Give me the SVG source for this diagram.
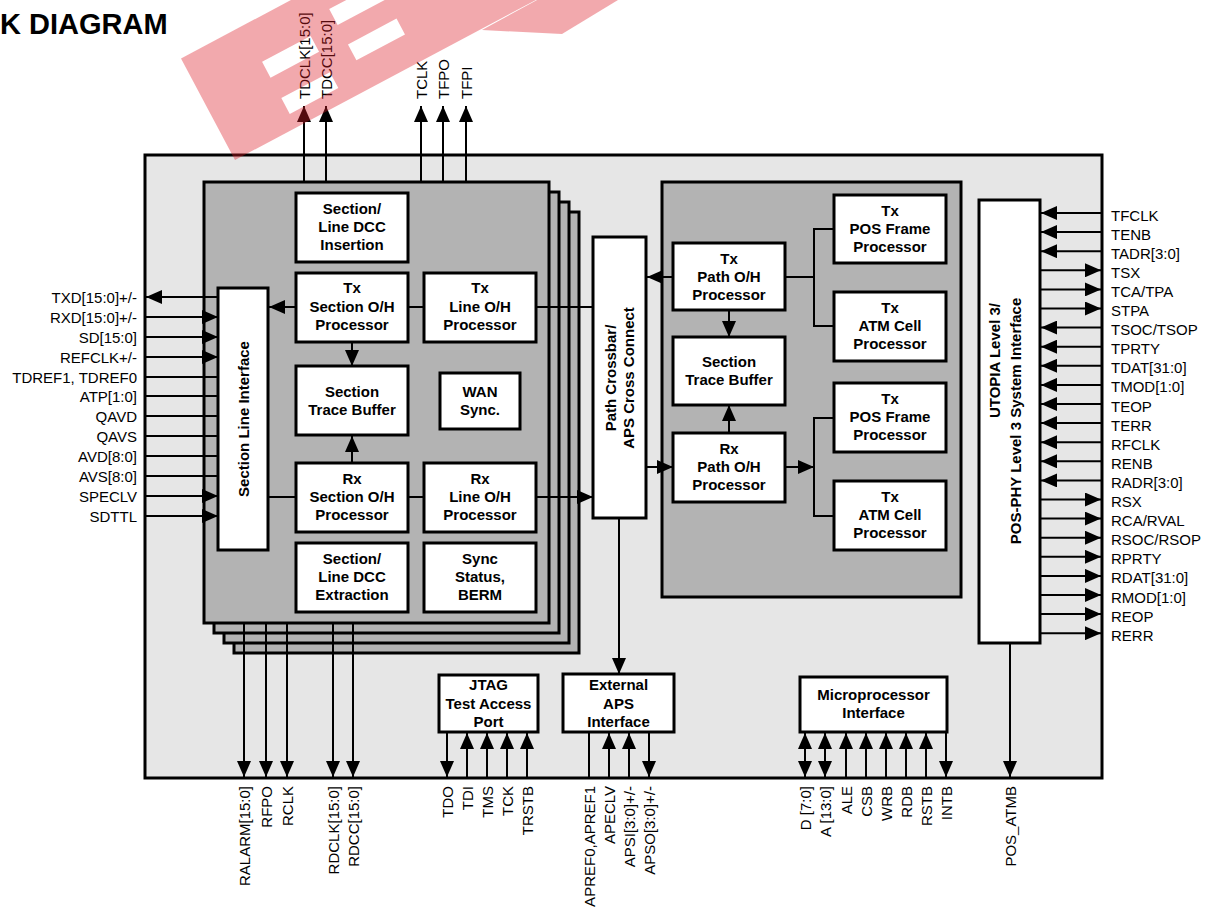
<svg xmlns="http://www.w3.org/2000/svg" width="1210" height="908" viewBox="0 0 1210 908">
<defs>
<style>
.box{fill:#fff;stroke:#000;stroke-width:3}
.blk{fill:#b3b3b3;stroke:#000;stroke-width:3}
.ln{stroke:#000;stroke-width:2;fill:none}
.a{marker-end:url(#ah)}
.ab{marker-start:url(#ah);marker-end:url(#ah)}
.bl{font-family:"Liberation Sans",Arial,sans-serif;font-weight:bold;font-size:15px;text-anchor:middle;fill:#000}
.pl{font-family:"Liberation Sans",Arial,sans-serif;font-size:15px;fill:#000}
.r{text-anchor:end}
</style>
<marker id="ah" markerUnits="userSpaceOnUse" markerWidth="16" markerHeight="14" refX="16" refY="7" orient="auto-start-reverse" viewBox="0 0 16 14"><path d="M0,0 L16,7 L0,14 z" fill="#000"/></marker>
</defs>
<rect width="1210" height="908" fill="#fff"/>
<text x="0" y="34" font-family="Liberation Sans,Arial,sans-serif" font-weight="bold" font-size="29">K DIAGRAM</text>

<g id="chip"><rect x="145" y="155" width="957" height="623" fill="#e6e6e6" stroke="#000" stroke-width="3"/></g>

<g id="section-block">
<rect class="blk" x="234" y="212" width="345" height="441"/>
<rect class="blk" x="224" y="202" width="345" height="441"/>
<rect class="blk" x="214" y="192" width="345" height="441"/>
<rect class="blk" x="204" y="182" width="345" height="441"/>
</g>
<g id="path-block"><rect class="blk" x="662" y="182" width="299" height="415"/></g>

<g id="dcc-insertion"><rect class="box" x="296" y="193" width="112" height="69"/>
<text class="bl"><tspan x="352" y="214">Section/</tspan><tspan x="352" y="232">Line DCC</tspan><tspan x="352" y="250">Insertion</tspan></text></g>
<g id="tx-section-oh"><rect class="box" x="296" y="273" width="112" height="69"/>
<text class="bl"><tspan x="352" y="293">Tx</tspan><tspan x="352" y="312">Section O/H</tspan><tspan x="352" y="330">Processor</tspan></text></g>
<g id="tx-line-oh"><rect class="box" x="424" y="273" width="112" height="69"/>
<text class="bl"><tspan x="480" y="293">Tx</tspan><tspan x="480" y="312">Line O/H</tspan><tspan x="480" y="330">Processor</tspan></text></g>
<g id="section-trace-buffer"><rect class="box" x="296" y="366" width="112" height="69"/>
<text class="bl"><tspan x="352" y="397">Section</tspan><tspan x="352" y="415">Trace Buffer</tspan></text></g>
<g id="wan-sync"><rect class="box" x="440" y="373" width="80" height="56"/>
<text class="bl"><tspan x="480" y="397">WAN</tspan><tspan x="480" y="415">Sync.</tspan></text></g>
<g id="rx-section-oh"><rect class="box" x="296" y="463" width="112" height="69"/>
<text class="bl"><tspan x="352" y="484">Rx</tspan><tspan x="352" y="502">Section O/H</tspan><tspan x="352" y="520">Processor</tspan></text></g>
<g id="rx-line-oh"><rect class="box" x="424" y="463" width="112" height="69"/>
<text class="bl"><tspan x="480" y="484">Rx</tspan><tspan x="480" y="502">Line O/H</tspan><tspan x="480" y="520">Processor</tspan></text></g>
<g id="dcc-extraction"><rect class="box" x="296" y="543" width="112" height="69"/>
<text class="bl"><tspan x="352" y="564">Section/</tspan><tspan x="352" y="582">Line DCC</tspan><tspan x="352" y="600">Extraction</tspan></text></g>
<g id="sync-status"><rect class="box" x="424" y="543" width="112" height="69"/>
<text class="bl"><tspan x="480" y="564">Sync</tspan><tspan x="480" y="582">Status,</tspan><tspan x="480" y="600">BERM</tspan></text></g>
<g id="section-line-interface"><rect class="box" x="218" y="288" width="50" height="262"/>
<text class="bl" transform="translate(248.5,419) rotate(-90)">Section Line Interface</text></g>

<g id="crossbar"><rect class="box" x="593" y="237" width="53" height="281"/>
<text class="bl" transform="translate(616,378) rotate(-90)">Path  Crossbar/</text>
<text class="bl" transform="translate(634,378) rotate(-90)">APS Cross Connect</text></g>

<g id="tx-path-oh"><rect class="box" x="673" y="243" width="112" height="67"/>
<text class="bl"><tspan x="729" y="264">Tx</tspan><tspan x="729" y="282">Path O/H</tspan><tspan x="729" y="300">Processor</tspan></text></g>
<g id="path-trace-buffer"><rect class="box" x="673" y="337" width="112" height="68"/>
<text class="bl"><tspan x="729" y="367">Section</tspan><tspan x="729" y="385">Trace Buffer</tspan></text></g>
<g id="rx-path-oh"><rect class="box" x="673" y="433" width="112" height="69"/>
<text class="bl"><tspan x="729" y="454">Rx</tspan><tspan x="729" y="472">Path O/H</tspan><tspan x="729" y="490">Processor</tspan></text></g>
<g id="tx-pos-1"><rect class="box" x="834" y="195" width="112" height="68"/>
<text class="bl"><tspan x="890" y="216">Tx</tspan><tspan x="890" y="234">POS Frame</tspan><tspan x="890" y="252">Processor</tspan></text></g>
<g id="tx-atm-1"><rect class="box" x="834" y="292" width="112" height="69"/>
<text class="bl"><tspan x="890" y="313">Tx</tspan><tspan x="890" y="331">ATM Cell</tspan><tspan x="890" y="349">Processor</tspan></text></g>
<g id="tx-pos-2"><rect class="box" x="834" y="383" width="112" height="69"/>
<text class="bl"><tspan x="890" y="404">Tx</tspan><tspan x="890" y="422">POS Frame</tspan><tspan x="890" y="440">Processor</tspan></text></g>
<g id="tx-atm-2"><rect class="box" x="834" y="481" width="112" height="69"/>
<text class="bl"><tspan x="890" y="502">Tx</tspan><tspan x="890" y="520">ATM Cell</tspan><tspan x="890" y="538">Processor</tspan></text></g>

<g id="utopia"><rect class="box" x="979" y="200" width="61" height="443"/>
<text class="bl r" transform="translate(1000,303) rotate(-90)">UTOPIA  Level 3/</text>
<text class="bl" transform="translate(1021,421) rotate(-90)">POS-PHY  Level 3  System  Interface</text></g>

<g id="jtag"><rect class="box" x="439" y="675" width="99" height="57"/>
<text class="bl"><tspan x="488.5" y="690">JTAG</tspan><tspan x="488.5" y="708.5">Test Access</tspan><tspan x="488.5" y="727">Port</tspan></text></g>
<g id="ext-aps"><rect class="box" x="563" y="674" width="111" height="58"/>
<text class="bl"><tspan x="618.5" y="690">External</tspan><tspan x="618.5" y="708.5">APS</tspan><tspan x="618.5" y="727">Interface</tspan></text></g>
<g id="micro"><rect class="box" x="800" y="677" width="147" height="55"/>
<text class="bl"><tspan x="873.5" y="700">Microprocessor</tspan><tspan x="873.5" y="718">Interface</tspan></text></g>

<g id="connectors">
<path class="ln a" d="M296,307 H269"/>
<path class="ln" d="M408,307 H424"/>
<path class="ln" d="M536,307 H593"/>
<path class="ln a" d="M352,342 V366"/>
<path class="ln a" d="M352,463 V436"/>
<path class="ln" d="M268,497 H296"/>
<path class="ln" d="M408,497 H424"/>
<path class="ln a" d="M536,497 H593"/>
<path class="ln a" d="M673,277 H647"/>
<path class="ln" d="M785,277 H814"/>
<path class="ln" d="M834,229 H814 V326 H834"/>
<path class="ln a" d="M729,310 V337"/>
<path class="ln a" d="M729,433 V405"/>
<path class="ln a" d="M646,467 H673"/>
<path class="ln a" d="M785,467 H814"/>
<path class="ln" d="M834,418 H814 V516 H834"/>
<path class="ln a" d="M619,518 V674"/>
<path class="ln a" d="M304,182 V106"/>
<path class="ln a" d="M326,182 V106"/>
<path class="ln a" d="M421,182 V106"/>
<path class="ln a" d="M443,182 V106"/>
<path class="ln a" d="M466,182 V106"/>
<path class="ln a" d="M218,297 H146"/>
<path class="ln a" d="M145,317 H218"/>
<path class="ln a" d="M145,337 H218"/>
<path class="ln a" d="M145,357 H218"/>
<path class="ln" d="M145,377 H218"/>
<path class="ln" d="M145,396 H218"/>
<path class="ln" d="M145,416 H218"/>
<path class="ln" d="M145,436 H218"/>
<path class="ln" d="M145,456 H218"/>
<path class="ln" d="M145,476 H218"/>
<path class="ln a" d="M145,496 H218"/>
<path class="ln a" d="M145,516 H218"/>
<path class="ln a" d="M1102,213 H1041"/>
<path class="ln a" d="M1102,232.1 H1041"/>
<path class="ln a" d="M1102,251.2 H1041"/>
<path class="ln a" d="M1040,270.3 H1101"/>
<path class="ln a" d="M1040,289.4 H1101"/>
<path class="ln a" d="M1040,308.5 H1101"/>
<path class="ln a" d="M1102,327.6 H1041"/>
<path class="ln a" d="M1102,346.7 H1041"/>
<path class="ln a" d="M1102,365.8 H1041"/>
<path class="ln a" d="M1102,384.9 H1041"/>
<path class="ln a" d="M1102,404 H1041"/>
<path class="ln a" d="M1102,423.1 H1041"/>
<path class="ln a" d="M1102,442.2 H1041"/>
<path class="ln a" d="M1102,461.3 H1041"/>
<path class="ln a" d="M1102,480.4 H1041"/>
<path class="ln a" d="M1040,499.5 H1101"/>
<path class="ln a" d="M1040,518.6 H1101"/>
<path class="ln a" d="M1040,537.7 H1101"/>
<path class="ln a" d="M1040,556.8 H1101"/>
<path class="ln a" d="M1040,575.9 H1101"/>
<path class="ln a" d="M1040,595 H1101"/>
<path class="ln a" d="M1040,614.1 H1101"/>
<path class="ln a" d="M1040,633.2 H1101"/>
<path class="ln a" d="M244,623 V777"/>
<path class="ln a" d="M266,623 V777"/>
<path class="ln a" d="M287,623 V777"/>
<path class="ln a" d="M333,623 V777"/>
<path class="ln a" d="M353,623 V777"/>
<path class="ln a" d="M447,732 V777"/>
<path class="ln a" d="M467,778 V733"/>
<path class="ln a" d="M487,778 V733"/>
<path class="ln a" d="M507,778 V733"/>
<path class="ln a" d="M527,778 V733"/>
<path class="ln" d="M589,732 V778"/>
<path class="ln a" d="M609,778 V733"/>
<path class="ln a" d="M629,778 V733"/>
<path class="ln a" d="M649,732 V777"/>
<path class="ln ab" d="M805,733 V777"/>
<path class="ln ab" d="M825,733 V777"/>
<path class="ln a" d="M846,778 V733"/>
<path class="ln a" d="M866,778 V733"/>
<path class="ln a" d="M886,778 V733"/>
<path class="ln a" d="M906,778 V733"/>
<path class="ln a" d="M926,778 V733"/>
<path class="ln a" d="M946,732 V777"/>
<path class="ln a" d="M1010,643 V777"/>
</g>

<g id="pin-labels">
<text class="pl" transform="translate(309.5,99) rotate(-90)">TDCLK[15:0]</text>
<text class="pl" transform="translate(331.5,99) rotate(-90)">TDCC[15:0]</text>
<text class="pl" transform="translate(426.5,99) rotate(-90)">TCLK</text>
<text class="pl" transform="translate(448.5,99) rotate(-90)">TFPO</text>
<text class="pl" transform="translate(471.5,99) rotate(-90)">TFPI</text>

<text class="pl r" x="137" y="303">TXD[15:0]+/-</text>
<text class="pl r" x="137" y="323">RXD[15:0]+/-</text>
<text class="pl r" x="137" y="343">SD[15:0]</text>
<text class="pl r" x="137" y="363">REFCLK+/-</text>
<text class="pl r" x="137" y="383">TDREF1, TDREF0</text>
<text class="pl r" x="137" y="402">ATP[1:0]</text>
<text class="pl r" x="137" y="422">QAVD</text>
<text class="pl r" x="137" y="442">QAVS</text>
<text class="pl r" x="137" y="462">AVD[8:0]</text>
<text class="pl r" x="137" y="482">AVS[8:0]</text>
<text class="pl r" x="137" y="502">SPECLV</text>
<text class="pl r" x="137" y="522">SDTTL</text>

<text class="pl" x="1111" y="220.5">TFCLK</text>
<text class="pl" x="1111" y="239.6">TENB</text>
<text class="pl" x="1111" y="258.7">TADR[3:0]</text>
<text class="pl" x="1111" y="277.8">TSX</text>
<text class="pl" x="1111" y="296.9">TCA/TPA</text>
<text class="pl" x="1111" y="316">STPA</text>
<text class="pl" x="1111" y="335.1">TSOC/TSOP</text>
<text class="pl" x="1111" y="354.2">TPRTY</text>
<text class="pl" x="1111" y="373.3">TDAT[31:0]</text>
<text class="pl" x="1111" y="392.4">TMOD[1:0]</text>
<text class="pl" x="1111" y="411.5">TEOP</text>
<text class="pl" x="1111" y="430.6">TERR</text>
<text class="pl" x="1111" y="449.7">RFCLK</text>
<text class="pl" x="1111" y="468.8">RENB</text>
<text class="pl" x="1111" y="487.9">RADR[3:0]</text>
<text class="pl" x="1111" y="507">RSX</text>
<text class="pl" x="1111" y="526.1">RCA/RVAL</text>
<text class="pl" x="1111" y="545.2">RSOC/RSOP</text>
<text class="pl" x="1111" y="564.3">RPRTY</text>
<text class="pl" x="1111" y="583.4">RDAT[31:0]</text>
<text class="pl" x="1111" y="602.5">RMOD[1:0]</text>
<text class="pl" x="1111" y="621.6">REOP</text>
<text class="pl" x="1111" y="640.7">RERR</text>

<text class="pl r" transform="translate(249.5,786) rotate(-90)">RALARM[15:0]</text>
<text class="pl r" transform="translate(271.5,786) rotate(-90)">RFPO</text>
<text class="pl r" transform="translate(292.5,786) rotate(-90)">RCLK</text>
<text class="pl r" transform="translate(338.5,786) rotate(-90)">RDCLK[15:0]</text>
<text class="pl r" transform="translate(358.5,786) rotate(-90)">RDCC[15:0]</text>
<text class="pl r" transform="translate(452.5,786) rotate(-90)">TDO</text>
<text class="pl r" transform="translate(472.5,786) rotate(-90)">TDI</text>
<text class="pl r" transform="translate(492.5,786) rotate(-90)">TMS</text>
<text class="pl r" transform="translate(512.5,786) rotate(-90)">TCK</text>
<text class="pl r" transform="translate(532.5,786) rotate(-90)">TRSTB</text>
<text class="pl r" transform="translate(594.5,786) rotate(-90)">APREF0,APREF1</text>
<text class="pl r" transform="translate(614.5,786) rotate(-90)">APECLV</text>
<text class="pl r" transform="translate(634.5,786) rotate(-90)">APSI[3:0]+/-</text>
<text class="pl r" transform="translate(654.5,786) rotate(-90)">APSO[3:0]+/-</text>
<text class="pl r" transform="translate(810.5,786) rotate(-90)">D [7:0]</text>
<text class="pl r" transform="translate(830.5,786) rotate(-90)">A [13:0]</text>
<text class="pl r" transform="translate(851.5,786) rotate(-90)">ALE</text>
<text class="pl r" transform="translate(871.5,786) rotate(-90)">CSB</text>
<text class="pl r" transform="translate(891.5,786) rotate(-90)">WRB</text>
<text class="pl r" transform="translate(911.5,786) rotate(-90)">RDB</text>
<text class="pl r" transform="translate(931.5,786) rotate(-90)">RSTB</text>
<text class="pl r" transform="translate(951.5,786) rotate(-90)">INTB</text>
<text class="pl r" transform="translate(1015.5,786) rotate(-90)">POS_ATMB</text>
</g>

<g id="watermark" fill="#dc1e28" fill-opacity="0.38">
<path fill-rule="evenodd" transform="translate(235,160) rotate(-28)" d="M0,0 H440 V-115 H0 Z M70,-74 h55 v18 h-55 z M70,-33 h55 v18 h-55 z M154,-49 h55 v18 h-55 z M154,-89 h55 v18 h-55 z"/>
<path d="M482,30 L537,0 L618,0 L562,34 Z"/>
</g>
</svg>
